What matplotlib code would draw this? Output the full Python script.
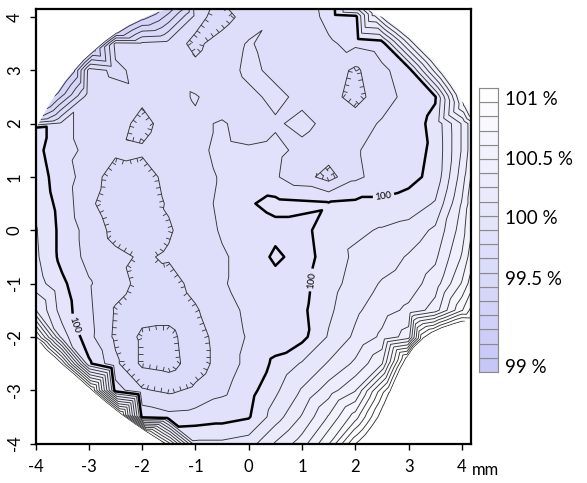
import numpy as np
import matplotlib
matplotlib.use("Agg")
import matplotlib.pyplot as plt
import matplotlib.tri as mtri
from matplotlib.path import Path
from matplotlib.patches import PathPatch
from matplotlib.collections import LineCollection
from matplotlib.colors import LinearSegmentedColormap, Normalize

plt.rcParams["font.family"] = ["Lato", "DejaVu Sans"]
plt.rcParams["axes.unicode_minus"] = False

nan = np.nan

# measuring grid (mm)
grid_x = [-4.0, -3.5, -3.0, -2.5, -2.0, -1.5, -1.0, -0.5, 0.0,
          0.5, 1.0, 1.5, 2.0, 2.5, 3.0, 3.5, 4.0, 4.5]
grid_y = [4.5, 4.0, 3.5, 3.0, 2.5, 2.0, 1.5, 1.0, 0.5, 0.0,
          -0.5, -1.0, -1.5, -2.0, -2.5, -3.0, -3.5, -4.0, -4.5]

# relative value in % (nan = outside the sample)
values = [
    [nan, nan, nan, nan, nan, nan, 99.86, 99.83, 99.88, 99.92, 99.91, 99.93, 99.97, nan, nan, nan, nan, nan],
    [nan, nan, nan, nan, nan, nan, 99.83, 99.76, 99.84, 99.89, 99.86, 99.92, 99.96, nan, nan, nan, nan, nan],
    [nan, nan, nan, 99.83, 99.82, 99.84, 99.78, 99.84, 99.91, 99.86, 99.84, 99.89, 99.92, 99.95, nan, nan, nan, nan],
    [nan, nan, 99.84, 99.78, 99.83, 99.86, 99.82, 99.86, 99.92, 99.88, 99.84, 99.86, 99.78, 99.88, 99.95, nan, nan, nan],
    [nan, nan, 99.86, 99.84, 99.82, 99.86, 99.91, 99.84, 99.88, 99.92, 99.88, 99.84, 99.76, 99.86, 99.93, 99.99, nan, nan],
    [nan, 99.93, 99.86, 99.84, 99.77, 99.84, 99.88, 99.91, 99.86, 99.89, 99.92, 99.88, 99.86, 99.91, 99.95, 100.03, 100.31, 100.71],
    [100.03, 99.93, 99.88, 99.82, 99.81, 99.86, 99.88, 99.92, 99.91, 99.92, 99.88, 99.85, 99.89, 99.94, 99.96, 100.02, 100.31, 100.71],
    [100.05, 99.95, 99.85, 99.75, 99.77, 99.82, 99.86, 99.91, 99.93, 99.91, 99.84, 99.76, 99.88, 99.94, 99.97, 100.03, 100.35, 100.81],
    [100.08, 99.96, 99.82, 99.74, 99.75, 99.81, 99.86, 99.92, 99.99, 100.03, 100.02, 100.01, 100.02, 100.02, 100.04, 100.11, 100.41, 100.81],
    [100.11, 99.97, 99.86, 99.77, 99.76, 99.79, 99.85, 99.91, 99.94, 99.97, 99.97, 100.05, 100.08, 100.11, 100.14, 100.22, 100.45, 100.91],
    [100.12, 99.97, 99.87, 99.82, 99.79, 99.81, 99.86, 99.89, 99.93, 100.02, 99.96, 100.04, 100.12, 100.15, 100.21, 100.28, 100.51, 100.91],
    [100.15, 100.02, 99.91, 99.84, 99.77, 99.76, 99.83, 99.89, 99.94, 99.96, 99.97, 100.06, 100.14, 100.21, 100.25, 100.35, 100.61, 101.01],
    [100.31, 100.05, 99.92, 99.79, 99.74, 99.74, 99.79, 99.86, 99.92, 99.96, 99.98, 100.08, 100.18, 100.26, 100.32, 100.45, 100.79, 101.19],
    [nan, 100.15, 99.93, 99.78, 99.68, 99.67, 99.76, 99.84, 99.91, 99.95, 99.97, 100.11, 100.22, 100.32, 100.45, nan, nan, nan],
    [nan, nan, 100.02, 99.82, 99.68, 99.66, 99.75, 99.84, 99.93, 100.02, 100.11, 100.21, 100.32, 100.49, nan, nan, nan, nan],
    [nan, nan, nan, 99.95, 99.81, 99.78, 99.82, 99.88, 99.96, 100.08, 100.21, 100.35, 100.49, nan, nan, nan, nan, nan],
    [nan, nan, nan, nan, 99.97, 99.93, 99.94, 99.96, 99.99, 100.15, 100.31, 100.51, 100.75, nan, nan, nan, nan, nan],
    [nan, nan, nan, nan, nan, nan, 100.12, 100.12, 100.15, 100.31, 100.45, 100.69, nan, nan, nan, nan, nan, nan],
    [nan, nan, nan, nan, nan, nan, 100.49, 100.41, 100.42, 100.51, 100.71, 100.99, nan, nan, nan, nan, nan, nan],
]

# sample rim, clockwise; nan value = helper corner beyond the frame
rim_x = [-4.0, -3.88, -3.75, -3.6, -3.45, -3.28, -3.1, -2.9, -2.7, -2.48, -2.25, -2.0, -1.75, -1.5, -1.25,
         -1.1, 2.25,
         2.1, 2.35, 2.6, 2.83, 3.05, 3.25, 3.45, 3.63, 3.8, 3.93, 4.05, 4.2,
         4.65, 4.65,
         4.2, 4.0, 3.8, 3.62, 3.45, 3.27, 3.1, 2.96, 2.85, 2.75, 2.65, 2.55, 2.45, 2.33, 2.2, 2.08, 1.95,
         1.9, -1.4,
         -1.45, -1.68, -1.9, -2.15, -2.4, -2.68, -2.95, -3.22, -3.5, -3.65, -3.8, -3.9, -4.0,
         -4.05, -4.05]
rim_y = [1.9, 2.12, 2.35, 2.58, 2.8, 3.0, 3.2, 3.38, 3.55, 3.71, 3.85, 3.97, 4.08, 4.15, 4.2,
         4.65, 4.65,
         4.2, 4.08, 3.95, 3.78, 3.6, 3.4, 3.2, 2.98, 2.75, 2.55, 2.35, 2.2,
         2.1, -1.8,
         -1.68, -1.72, -1.78, -1.84, -1.92, -2.04, -2.2, -2.4, -2.6, -2.82, -3.05, -3.28, -3.5, -3.68, -3.85, -3.97, -4.08,
         -4.65, -4.65,
         -4.08, -3.94, -3.8, -3.63, -3.45, -3.23, -3.0, -2.76, -2.52, -2.38, -2.25, -2.13, -2.02,
         -2.02, 1.9]
rim_val = [100.05, 99.62, 99.45, 99.38, 99.38, 99.38, 99.38, 99.38, 99.38, 99.38, 99.38, 99.38, 99.38, 99.45, 99.55,
           nan, nan,
           100.32, 100.45, 100.55, 100.55, 100.55, 100.55, 100.55, 100.55, 100.55, 100.55, 100.62, 100.72,
           nan, nan,
           101.05, 101.12, 101.12, 101.12, 101.12, 101.12, 101.12, 101.12, 101.12, 101.12, 101.12, 101.12, 101.12,
           101.12, 101.12, 101.12, 101.12,
           nan, nan,
           100.92, 100.92, 100.92, 100.92, 100.92, 100.92, 100.92, 100.92, 100.92, 100.92, 100.92, 100.92, 100.85,
           nan, nan]

cbar_labels = ["101 %", "100.5 %", "100 %", "99.5 %", "99 %"]
cbar_ticks = [100.93, 100.51, 100.09, 99.66, 99.04]
label_spots = [(-3.26, -1.77), (1.39, -0.96), (2.56, 0.5)]

# ---- build triangulation inside the rim
gx, gy = np.meshgrid(grid_x, grid_y)
z_grid = np.array(values)
ok = ~np.isnan(z_grid)
rim_x = np.array(rim_x)
rim_y = np.array(rim_y)
rim_val = np.array(rim_val)
has = ~np.isnan(rim_val)
px = np.concatenate([gx[ok], rim_x[has]])
py = np.concatenate([gy[ok], rim_y[has]])
pz = np.concatenate([z_grid[ok], rim_val[has]])

verts = np.column_stack([rim_x, rim_y])
outline = Path(np.vstack([verts, verts[:1]]), closed=True)
tri = mtri.Triangulation(px, py)
cen = np.column_stack([px[tri.triangles].mean(axis=1), py[tri.triangles].mean(axis=1)])
tri.set_mask(~outline.contains_points(cen))
interp = mtri.LinearTriInterpolator(tri, pz)

fig = plt.figure(figsize=(5.87, 4.83), dpi=100)
ax = fig.add_axes([35.5 / 587, 1 - 443.5 / 483, (471 - 35.5) / 587, (443.5 - 9) / 483])

cmap = LinearSegmentedColormap.from_list("lav", ["#c6c6f7", "#ffffff"])
cmap.set_over("white")
cmap.set_under("#c6c6f7")
norm = Normalize(99.0, 101.0)
fill_levels = np.round(np.arange(99.0, 101.001, 0.1), 2)
line_levels = [lv for lv in np.round(np.arange(99.0, 101.61, 0.1), 2) if lv != 100.0]

cf = ax.tricontourf(tri, pz, levels=fill_levels, cmap=cmap, norm=norm, extend="both")
cl = ax.tricontour(tri, pz, levels=line_levels, colors="#333333", linewidths=0.65)
ck = ax.tricontour(tri, pz, levels=[100.0], colors="black", linewidths=1.8)

clip = PathPatch(outline, transform=ax.transData, facecolor="none", edgecolor="none")
ax.add_patch(clip)
for c in (cf, cl, ck):
    c.set_clip_path(clip)

ax.clabel(ck, fmt="%d", fontsize=7, manual=label_spots, inline=True, inline_spacing=2)


def pieces(path):
    v, c = path.vertices, path.codes
    if c is None:
        return [(v, False)]
    out = []
    start = 0
    for i in range(1, len(v) + 1):
        if i == len(v) or c[i] == Path.MOVETO:
            seg, cds = v[start:i], c[start:i]
            closed = cds[-1] == Path.CLOSEPOLY
            if closed:
                seg = seg[:-1]
            elif len(seg) > 2 and np.allclose(seg[0], seg[-1]):
                closed = True
                seg = seg[:-1]
            out.append((seg, closed))
            start = i
    return out


# hachures on closed depression contours (ticks point downhill)
ticks = []
for lv, path in zip(line_levels, cl.get_paths()):
    if lv > 99.85 or lv < 99.6:
        continue
    for loop, closed in pieces(path):
        if not closed or len(loop) < 3:
            continue
        ring = np.vstack([loop, loop[:1]])
        d = np.diff(ring, axis=0)
        seglen = np.hypot(d[:, 0], d[:, 1])
        perim = seglen.sum()
        if perim < 0.5:
            continue
        lp = Path(ring, closed=True)
        mid = ring[0] + d[0] / 2
        nrm = np.array([-d[0, 1], d[0, 0]]) / max(seglen[0], 1e-9)
        probe = mid + nrm * 0.02
        inside_is_left = lp.contains_point(probe)
        inner = probe if inside_is_left else mid - nrm * 0.02
        val = interp(inner[0], inner[1])
        if np.ma.is_masked(val) or float(val) >= lv:
            continue
        sgn = 1.0 if inside_is_left else -1.0
        cum = np.concatenate([[0], np.cumsum(seglen)])
        for s in np.arange(0.05, perim, 0.13):
            k = np.searchsorted(cum, s) - 1
            k = min(max(k, 0), len(seglen) - 1)
            t = (s - cum[k]) / max(seglen[k], 1e-9)
            p = ring[k] + d[k] * t
            n = sgn * np.array([-d[k, 1], d[k, 0]]) / max(seglen[k], 1e-9)
            ticks.append([p, p + n * 0.08])
hach = LineCollection(ticks, colors="#333333", linewidths=0.6)
ax.add_collection(hach)

ax.set_xlim(-4.0, 4.17)
ax.set_ylim(-4.0, 4.15)
ax.set_xticks(range(-4, 5))
ax.set_yticks(range(-4, 5))
ax.tick_params(direction="out", length=4, width=1, labelsize=12)
ax.tick_params(axis="x", pad=7)
ax.tick_params(axis="y", pad=5)
for lab in ax.get_yticklabels():
    lab.set_rotation(90)
    lab.set_va("center")
for s in ax.spines.values():
    s.set_linewidth(1.6)
fig.text(472 / 587, 1 - 470 / 483, "mm", fontsize=12, va="center", ha="left")

# legend bar
cax = fig.add_axes([479 / 587, 1 - 372 / 483, 19 / 587, 284 / 483])
for lo in fill_levels[:-1]:
    cax.bar(0, 0.1, bottom=lo, width=1, color=cmap(norm(lo + 0.05)),
            edgecolor="#8a8a8a", linewidth=0.8)
cax.set_xlim(-0.5, 0.5)
cax.set_ylim(99.0, 101.0)
cax.set_xticks([])
cax.yaxis.tick_right()
cax.set_yticks(cbar_ticks)
cax.set_yticklabels(cbar_labels)
cax.tick_params(length=0, labelsize=13.5, pad=5)
for s in cax.spines.values():
    s.set_edgecolor("#8a8a8a")
    s.set_linewidth(0.8)

fig.savefig("out.png", dpi=100)
